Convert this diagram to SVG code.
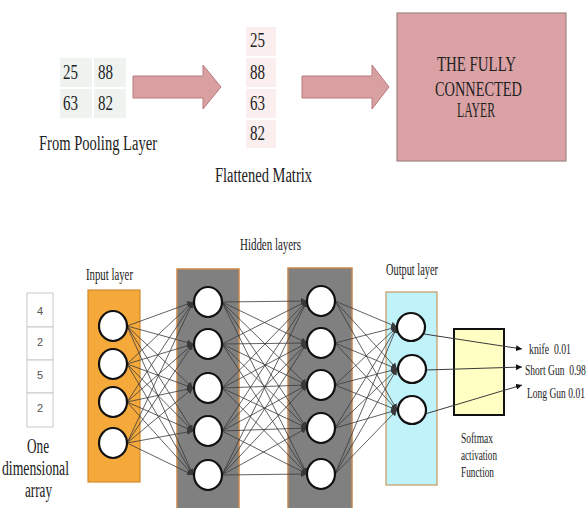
<svg xmlns="http://www.w3.org/2000/svg" width="588" height="508" viewBox="0 0 588 508">
<style>
text{font-family:"Liberation Serif","Times New Roman",serif;fill:#222}
.big{font-size:20px}
.mid{font-size:16px}
.sm{font-size:14px}
.dig{font-family:"Liberation Sans",Arial,sans-serif;font-size:11px;fill:#555}
.pcell{fill:#eef3f0;stroke:#fff;stroke-width:2}
.fcell{fill:#fbeeee;stroke:#fff;stroke-width:2}
.bigarrow{fill:#d9a0a2;stroke:#b97a7e;stroke-width:1}
.acell{fill:#fff;stroke:#c8c8c8;stroke-width:1}
.hid{fill:#808080;stroke:#c8884a;stroke-width:1.5}
.neuron{fill:#fff;stroke:#111;stroke-width:2.2}
.e{stroke:#3a3a3a;stroke-width:0.8;marker-end:url(#ah)}
.o{stroke:#3a3a3a;stroke-width:1;marker-end:url(#ah2)}
</style>
<defs>
<marker id="ah" markerUnits="userSpaceOnUse" markerWidth="7" markerHeight="6" refX="6" refY="3" orient="auto"><path d="M0,0 L6,3 L0,6 z" fill="#3a3a3a"/></marker>
<marker id="ah2" markerUnits="userSpaceOnUse" markerWidth="7" markerHeight="6" refX="6" refY="3" orient="auto"><path d="M0,0 L6,3 L0,6 z" fill="#111"/></marker>
</defs>
<rect width="588" height="508" fill="#fff"/>

<g id="pooling">
<rect class="pcell" x="59" y="57" width="34" height="31"/>
<rect class="pcell" x="93" y="57" width="34" height="31"/>
<rect class="pcell" x="59" y="88" width="34" height="31"/>
<rect class="pcell" x="93" y="88" width="34" height="31"/>
<text class="big" x="63" y="79" textLength="15" lengthAdjust="spacingAndGlyphs">25</text>
<text class="big" x="98" y="79" textLength="15" lengthAdjust="spacingAndGlyphs">88</text>
<text class="big" x="63" y="110" textLength="15" lengthAdjust="spacingAndGlyphs">63</text>
<text class="big" x="98" y="110" textLength="15" lengthAdjust="spacingAndGlyphs">82</text>
<text class="big" x="39" y="150" textLength="118" lengthAdjust="spacingAndGlyphs">From Pooling Layer</text>
</g>

<g id="flattened">
<rect class="fcell" x="245" y="26" width="32" height="31"/>
<rect class="fcell" x="245" y="57" width="32" height="31"/>
<rect class="fcell" x="245" y="88" width="32" height="31"/>
<rect class="fcell" x="245" y="119" width="32" height="30"/>
<text class="big" x="250" y="47" textLength="15" lengthAdjust="spacingAndGlyphs">25</text>
<text class="big" x="250" y="79" textLength="15" lengthAdjust="spacingAndGlyphs">88</text>
<text class="big" x="250" y="110" textLength="15" lengthAdjust="spacingAndGlyphs">63</text>
<text class="big" x="250" y="140" textLength="15" lengthAdjust="spacingAndGlyphs">82</text>
<text class="big" x="215" y="182" textLength="97" lengthAdjust="spacingAndGlyphs">Flattened Matrix</text>
</g>

<g id="fc">
<rect x="397" y="13" width="169" height="148" fill="#dba2a6" stroke="#a08484" stroke-width="1.2"/>
<text class="big" x="437" y="71" textLength="79" lengthAdjust="spacingAndGlyphs">THE FULLY</text>
<text class="big" x="435" y="96" textLength="87" lengthAdjust="spacingAndGlyphs">CONNECTED</text>
<text class="big" x="457" y="117" textLength="38" lengthAdjust="spacingAndGlyphs">LAYER</text>
</g>

<g id="top-arrows">
<polygon class="bigarrow" points="133,76 203,76 203,65 221,87 203,109 203,98 133,98"/>
<polygon class="bigarrow" points="302,76 372,76 372,65 389,87 372,109 372,98 302,98"/>
</g>

<g id="array">
<rect class="acell" x="27" y="293" width="26" height="34"/>
<rect class="acell" x="27" y="327" width="26" height="33"/>
<rect class="acell" x="27" y="360" width="26" height="33"/>
<rect class="acell" x="27" y="393" width="26" height="34"/>
<text class="dig" x="40" y="315" text-anchor="middle">4</text>
<text class="dig" x="40" y="346" text-anchor="middle">2</text>
<text class="dig" x="40" y="379" text-anchor="middle">5</text>
<text class="dig" x="40" y="412" text-anchor="middle">2</text>
<text class="big" x="27" y="453" textLength="22" lengthAdjust="spacingAndGlyphs">One</text>
<text class="big" x="2" y="475" textLength="67" lengthAdjust="spacingAndGlyphs">dimensional</text>
<text class="big" x="25" y="497" textLength="27" lengthAdjust="spacingAndGlyphs">array</text>
</g>

<g id="input-layer">
<rect x="88" y="290" width="52" height="192" fill="#f6a93b" stroke="#cf8a30" stroke-width="1.2"/>
<text class="mid" x="86" y="280" textLength="47" lengthAdjust="spacingAndGlyphs">Input layer</text>
</g>

<g id="hidden-1">
<rect class="hid" x="177" y="269" width="62" height="245"/>
</g>
<g id="hidden-2">
<rect class="hid" x="288" y="268" width="64" height="246"/>
</g>
<text id="hidden-label" class="mid" x="240" y="250" textLength="61" lengthAdjust="spacingAndGlyphs">Hidden layers</text>

<g id="output-layer">
<rect x="386" y="292" width="51" height="193" fill="#c0f2fa" stroke="#c89a60" stroke-width="1.2"/>
<text class="mid" x="386" y="275" textLength="52" lengthAdjust="spacingAndGlyphs">Output layer</text>
</g>

<g id="softmax">
<rect x="454" y="329" width="50" height="86" fill="#ffffc4" stroke="#111" stroke-width="2"/>
<text class="sm" x="461" y="443" textLength="32" lengthAdjust="spacingAndGlyphs">Softmax</text>
<text class="sm" x="461" y="460" textLength="36" lengthAdjust="spacingAndGlyphs">activation</text>
<text class="sm" x="461" y="477" textLength="33" lengthAdjust="spacingAndGlyphs">Function</text>
</g>

<g id="connectors">
<line class="e" x1="127" y1="326" x2="193" y2="302"/>
<line class="e" x1="127" y1="326" x2="193" y2="344"/>
<line class="e" x1="127" y1="326" x2="193" y2="388"/>
<line class="e" x1="127" y1="326" x2="193" y2="431"/>
<line class="e" x1="127" y1="326" x2="193" y2="475"/>
<line class="e" x1="127" y1="364" x2="193" y2="302"/>
<line class="e" x1="127" y1="364" x2="193" y2="344"/>
<line class="e" x1="127" y1="364" x2="193" y2="388"/>
<line class="e" x1="127" y1="364" x2="193" y2="431"/>
<line class="e" x1="127" y1="364" x2="193" y2="475"/>
<line class="e" x1="127" y1="402" x2="193" y2="302"/>
<line class="e" x1="127" y1="402" x2="193" y2="344"/>
<line class="e" x1="127" y1="402" x2="193" y2="388"/>
<line class="e" x1="127" y1="402" x2="193" y2="431"/>
<line class="e" x1="127" y1="402" x2="193" y2="475"/>
<line class="e" x1="127" y1="443" x2="193" y2="302"/>
<line class="e" x1="127" y1="443" x2="193" y2="344"/>
<line class="e" x1="127" y1="443" x2="193" y2="388"/>
<line class="e" x1="127" y1="443" x2="193" y2="431"/>
<line class="e" x1="127" y1="443" x2="193" y2="475"/>

<line class="e" x1="222" y1="302" x2="307" y2="301"/>
<line class="e" x1="222" y1="302" x2="307" y2="343"/>
<line class="e" x1="222" y1="302" x2="307" y2="385"/>
<line class="e" x1="222" y1="302" x2="307" y2="428"/>
<line class="e" x1="222" y1="302" x2="307" y2="474"/>
<line class="e" x1="222" y1="344" x2="307" y2="301"/>
<line class="e" x1="222" y1="344" x2="307" y2="343"/>
<line class="e" x1="222" y1="344" x2="307" y2="385"/>
<line class="e" x1="222" y1="344" x2="307" y2="428"/>
<line class="e" x1="222" y1="344" x2="307" y2="474"/>
<line class="e" x1="222" y1="388" x2="307" y2="301"/>
<line class="e" x1="222" y1="388" x2="307" y2="343"/>
<line class="e" x1="222" y1="388" x2="307" y2="385"/>
<line class="e" x1="222" y1="388" x2="307" y2="428"/>
<line class="e" x1="222" y1="388" x2="307" y2="474"/>
<line class="e" x1="222" y1="431" x2="307" y2="301"/>
<line class="e" x1="222" y1="431" x2="307" y2="343"/>
<line class="e" x1="222" y1="431" x2="307" y2="385"/>
<line class="e" x1="222" y1="431" x2="307" y2="428"/>
<line class="e" x1="222" y1="431" x2="307" y2="474"/>
<line class="e" x1="222" y1="475" x2="307" y2="301"/>
<line class="e" x1="222" y1="475" x2="307" y2="343"/>
<line class="e" x1="222" y1="475" x2="307" y2="385"/>
<line class="e" x1="222" y1="475" x2="307" y2="428"/>
<line class="e" x1="222" y1="475" x2="307" y2="474"/>

<line class="e" x1="335" y1="301" x2="397" y2="327"/>
<line class="e" x1="335" y1="301" x2="397" y2="369"/>
<line class="e" x1="335" y1="301" x2="397" y2="410"/>
<line class="e" x1="335" y1="343" x2="397" y2="327"/>
<line class="e" x1="335" y1="343" x2="397" y2="369"/>
<line class="e" x1="335" y1="343" x2="397" y2="410"/>
<line class="e" x1="335" y1="385" x2="397" y2="327"/>
<line class="e" x1="335" y1="385" x2="397" y2="369"/>
<line class="e" x1="335" y1="385" x2="397" y2="410"/>
<line class="e" x1="335" y1="428" x2="397" y2="327"/>
<line class="e" x1="335" y1="428" x2="397" y2="369"/>
<line class="e" x1="335" y1="428" x2="397" y2="410"/>
<line class="e" x1="335" y1="474" x2="397" y2="327"/>
<line class="e" x1="335" y1="474" x2="397" y2="369"/>
<line class="e" x1="335" y1="474" x2="397" y2="410"/>

<line class="o" x1="424" y1="334" x2="522" y2="349"/>
<line class="o" x1="426" y1="370" x2="522" y2="367"/>
<line class="o" x1="425" y1="414" x2="522" y2="385"/>
</g>

<g id="input-neurons">
<ellipse class="neuron" cx="113" cy="326" rx="14" ry="15"/>
<ellipse class="neuron" cx="113" cy="364" rx="14" ry="15"/>
<ellipse class="neuron" cx="113" cy="402" rx="14" ry="15"/>
<ellipse class="neuron" cx="113" cy="443" rx="14" ry="15"/>
</g>
<g id="hidden-1-neurons">
<ellipse class="neuron" cx="208" cy="302" rx="14" ry="15"/>
<ellipse class="neuron" cx="208" cy="344" rx="14" ry="15"/>
<ellipse class="neuron" cx="208" cy="388" rx="14" ry="15"/>
<ellipse class="neuron" cx="208" cy="431" rx="14" ry="15"/>
<ellipse class="neuron" cx="208" cy="475" rx="14" ry="15"/>
</g>
<g id="hidden-2-neurons">
<ellipse class="neuron" cx="321" cy="301" rx="14" ry="15"/>
<ellipse class="neuron" cx="321" cy="343" rx="14" ry="15"/>
<ellipse class="neuron" cx="321" cy="385" rx="14" ry="15"/>
<ellipse class="neuron" cx="321" cy="428" rx="14" ry="15"/>
<ellipse class="neuron" cx="321" cy="474" rx="14" ry="15"/>
</g>
<g id="output-neurons">
<ellipse class="neuron" cx="411" cy="327" rx="14" ry="14"/>
<ellipse class="neuron" cx="412" cy="369" rx="14" ry="14"/>
<ellipse class="neuron" cx="412" cy="410" rx="14" ry="14"/>
</g>

<g id="outputs">
<text class="sm" x="529" y="354" textLength="42" lengthAdjust="spacingAndGlyphs" xml:space="preserve">knife  0.01</text>
<text class="sm" transform="translate(525,375) scale(0.68,1)" xml:space="preserve">Short Gun  0.98</text>
<text class="sm" transform="translate(527,398) scale(0.68,1)">Long Gun 0.01</text>
</g>
</svg>
